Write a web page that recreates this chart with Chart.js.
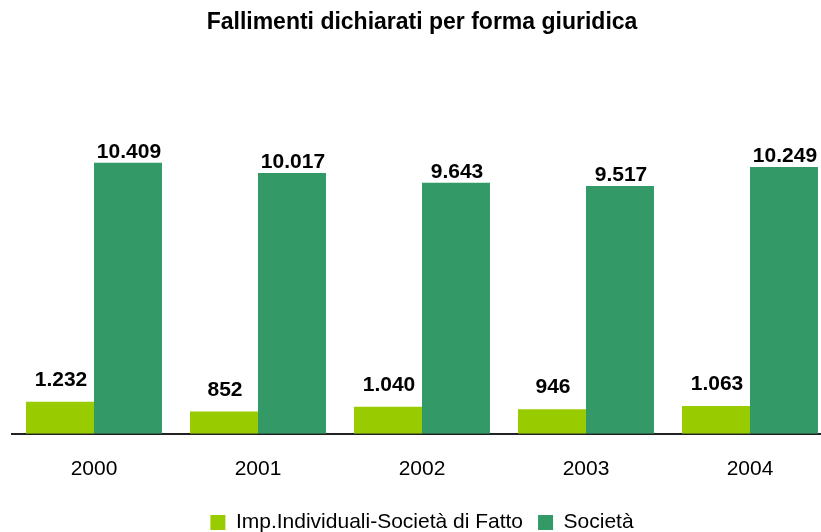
<!DOCTYPE html>
<html>
<head>
<meta charset="utf-8">
<script src="https://cdn.jsdelivr.net/npm/chart.js@4.4.1/dist/chart.umd.min.js"></script>
<style>
  html, body { margin: 0; padding: 0; background: #fff; overflow: hidden; }
  #wrap { position: relative; width: 840px; height: 543px; }
</style>
</head>
<body>
<div id="wrap"><canvas id="chart"></canvas></div>
<script>
// -------- DATA --------
const years = ["2000", "2001", "2002", "2003", "2004"];
const impIndividuali = [1232, 852, 1040, 946, 1063];
const societa = [10409, 10017, 9643, 9517, 10249];
const seriesNames = ["Imp.Individuali-Società di Fatto", "Società"];

const FONT = "'Liberation Sans', Arial, Helvetica, sans-serif";

// italian thousands separator
function fmt(v) {
    return String(v).replace(/\B(?=(\d{3})+(?!\d))/g, ".");
}

// -------- VALUE LABELS --------
const valueLabels = {
    id: "valueLabels",
    afterDatasetsDraw(chart) {
        const ctx = chart.ctx;
        ctx.save();
        ctx.font = "bold 21px " + FONT;
        ctx.fillStyle = "#000";
        ctx.textAlign = "center";
        ctx.textBaseline = "alphabetic";
        chart.data.datasets.forEach((ds, i) => {
            const meta = chart.getDatasetMeta(i);
            const gap = i === 0 ? 16 : 5;
            meta.data.forEach((bar, j) => {
                ctx.fillText(fmt(ds.data[j]), bar.x + 1, bar.y - gap);
            });
        });
        ctx.restore();
    }
};

// -------- CHART --------
new Chart(document.getElementById("chart"), {
    type: "bar",
    data: {
        labels: years,
        datasets: [
            { label: seriesNames[0], data: impIndividuali, backgroundColor: "#99CC00" },
            { label: seriesNames[1], data: societa, backgroundColor: "#339966" }
        ]
    },
    options: {
        responsive: true,
        maintainAspectRatio: false,
        animation: false,
        devicePixelRatio: 1,
        layout: { padding: { left: 12, right: 8, top: 0, bottom: 0 } },
        datasets: {
            bar: { categoryPercentage: 0.829, barPercentage: 1.0 }
        },
        scales: {
            x: {
                grid: { display: false },
                border: { display: true, color: "#222", width: 2 },
                ticks: { color: "#000", padding: 15, font: { family: FONT, size: 21 } }
            },
            y: {
                display: false,
                min: 0,
                max: 14000
            }
        },
        plugins: {
            title: {
                display: true,
                text: "Fallimenti dichiarati per forma giuridica",
                color: "#000",
                font: { family: FONT, size: 23, weight: "bold" },
                padding: { top: 9, bottom: 32.6 }
            },
            legend: {
                position: "bottom",
                labels: {
                    color: "#000",
                    boxWidth: 15,
                    boxHeight: 15,
                    padding: 15,
                    font: { family: FONT, size: 21 }
                }
            },
            tooltip: { enabled: false }
        }
    },
    plugins: [valueLabels]
});
</script>
</body>
</html>
